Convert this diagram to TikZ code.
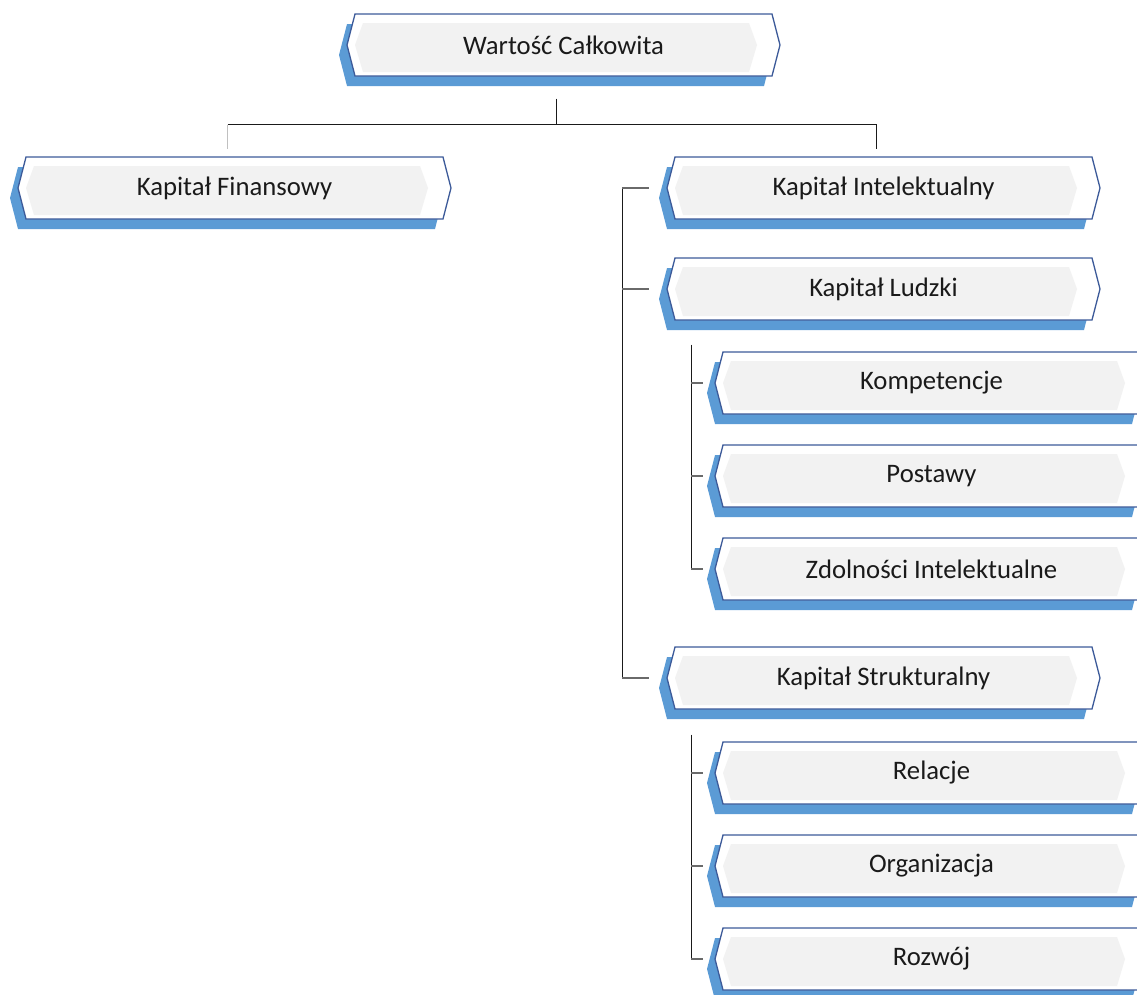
\documentclass[tikz,border=0pt]{standalone}
\usepackage{fontspec}
\setmainfont{Carlito}
\usetikzlibrary{shapes.symbols,shadows,calc}

\definecolor{boxline}{HTML}{3C5A99}
\definecolor{boxshade}{HTML}{5B9BD5}
\definecolor{boxfill}{HTML}{F2F2F2}
\definecolor{linkdark}{HTML}{1A1A1A}
\definecolor{linkgray}{HTML}{6A6A6A}
\definecolor{linklight}{HTML}{C0C0C0}
\definecolor{labeltext}{HTML}{1A1A1A}

\tikzset{
  capbox/.style={
    shape=signal, signal to=west and east, signal pointer angle=151,
    minimum width=433pt, minimum height=62pt, inner sep=0pt,
    draw=boxline, line width=1.3pt, fill=white,
    general shadow={fill=boxshade, draw=none, shadow xshift=-8pt, shadow yshift=-10pt},
    path picture={
      \fill[boxfill]
        ($(path picture bounding box.west)+(8pt,0pt)$) --
        ($(path picture bounding box.north west)+(16pt,-9pt)$) --
        ($(path picture bounding box.north east)+(-31pt,-9pt)$) --
        ($(path picture bounding box.east)+(-23pt,0pt)$) --
        ($(path picture bounding box.south east)+(-31pt,4pt)$) --
        ($(path picture bounding box.south west)+(16pt,4pt)$) -- cycle;
    },
    font=\fontsize{26.7}{30}\selectfont, text=labeltext},
  link/.style={draw=linkdark, line width=1.5pt},
  tick/.style={draw=linkgray, line width=1.5pt},
  faint/.style={draw=linklight, line width=1.5pt},
}

\begin{document}
\begin{tikzpicture}[x=1pt, y=-1pt]
  \useasboundingbox (0,0) rectangle (1137,994);
  \clip (0,0) rectangle (1137,994);

  % boxes
  \node[capbox] (total)  at (563.5,45)  {Wartość Całkowita};
  \node[capbox] (fin)    at (234.5,188) {Kapitał Finansowy};
  \node[capbox] (intel)  at (883.5,188) {Kapitał Intelektualny};
  \node[capbox] (human)  at (883.5,289) {Kapitał Ludzki};
  \node[capbox] (struct) at (883.5,678) {Kapitał Strukturalny};
  \node[capbox] (komp)   at (931.5,383) {Kompetencje};
  \node[capbox] (post)   at (931.5,476) {Postawy};
  \node[capbox] (zdol)   at (931.5,569) {Zdolności Intelektualne};
  \node[capbox] (rel)    at (931.5,773) {Relacje};
  \node[capbox] (org)    at (931.5,866) {Organizacja};
  \node[capbox] (roz)    at (931.5,959) {Rozwój};

  % top split
  \coordinate (bus)     at ($(total.south)+(-7,48)$);
  \coordinate (finDrop) at ($(fin.north)+(-7,0)$);
  \coordinate (intDrop) at ($(intel.north)+(-7,0)$);
  \draw[link] ($(total.south)+(-7,22)$) -- (bus);
  \draw[link] (bus -| finDrop) -- (bus -| intDrop);
  \draw[faint] (bus -| finDrop) -- ($(finDrop)+(0,-7)$);
  \draw[link] (bus -| intDrop) -- ($(intDrop)+(0,-7)$);

  % intellectual capital bracket
  \coordinate (spineTop) at ($(intel.west)+(-44,0)$);
  \coordinate (spineMid) at ($(human.west)+(-44,0)$);
  \coordinate (spineBot) at ($(struct.west)+(-44,0)$);
  \draw[link] (spineTop) -- (spineBot);
  \draw[tick] (spineTop) -- ($(intel.west)+(-17,0)$);
  \draw[tick] (spineMid) -- ($(human.west)+(-17,0)$);
  \draw[tick] (spineBot) -- ($(struct.west)+(-17,0)$);

  % human capital bracket
  \coordinate (hTop) at ($(human.south -| komp.west)+(-23,24)$);
  \draw[link] (hTop) -- ($(zdol.west)+(-23,0)$);
  \draw[tick] ($(komp.west)+(-23,0)$) -- ($(komp.west)+(-11,0)$);
  \draw[tick] ($(post.west)+(-23,0)$) -- ($(post.west)+(-11,0)$);
  \draw[tick] ($(zdol.west)+(-23,0)$) -- ($(zdol.west)+(-11,0)$);

  % structural capital bracket
  \coordinate (sTop) at ($(struct.south -| rel.west)+(-23,25)$);
  \draw[link] (sTop) -- ($(roz.west)+(-23,0)$);
  \draw[tick] ($(rel.west)+(-23,0)$) -- ($(rel.west)+(-11,0)$);
  \draw[tick] ($(org.west)+(-23,0)$) -- ($(org.west)+(-11,0)$);
  \draw[tick] ($(roz.west)+(-23,0)$) -- ($(roz.west)+(-11,0)$);
\end{tikzpicture}
\end{document}
